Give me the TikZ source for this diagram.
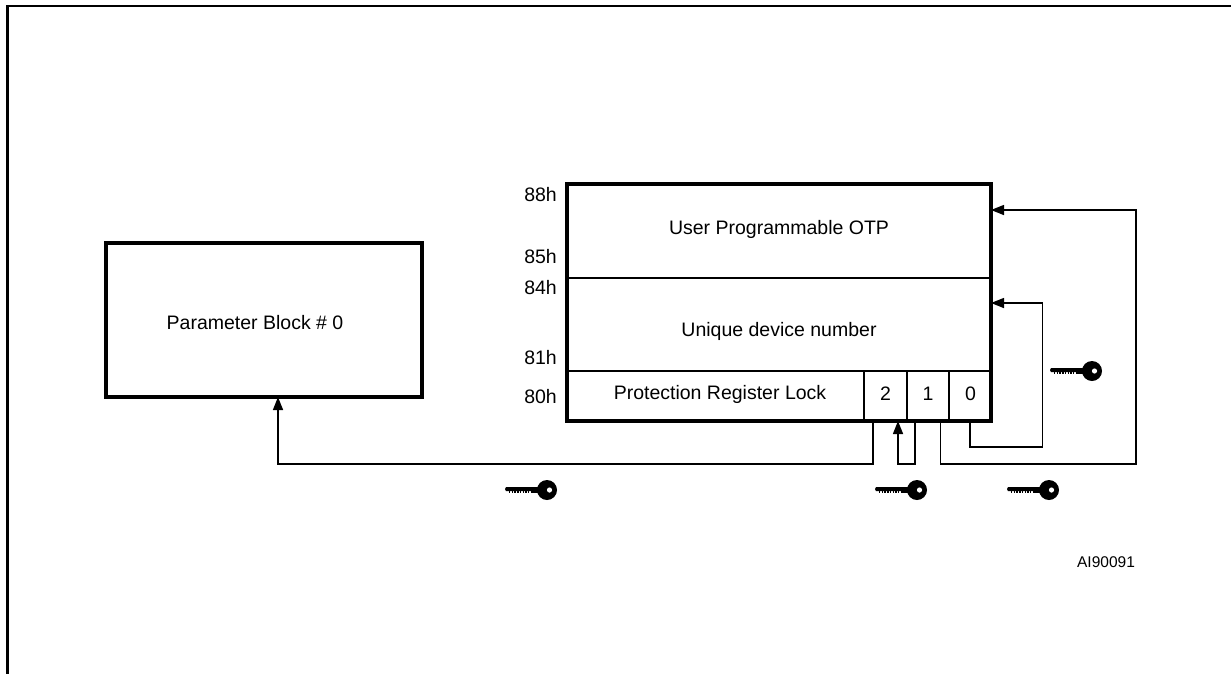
\documentclass[tikz,border=0pt]{standalone}
\usepackage{fontspec}
\setmainfont{Liberation Sans}
\usetikzlibrary{arrows.meta,calc}
\tikzset{
  cell/.style={draw, line width=1.9pt, inner sep=0pt, outer sep=0pt, anchor=north west},
  txt/.style={inner sep=0pt, font=\fontsize{19.5}{22}\selectfont},
  addr/.style={txt, anchor=east},
  conn/.style={line width=1.5pt},
  arr/.style={conn, -{Triangle[length=13pt,width=10pt]}},
  lockkey/.pic={
    \fill (0,0) circle (10);
    \fill (-41,-2.8) -- (-9,-2.8) -- (-9,1.2) -- (-41,1.2) -- (-42,-0.8) -- cycle;
    \foreach \i in {0,...,8} {\fill (-38+2.7*\i,1.2) rectangle (-36.6+2.7*\i,3);}
    \fill (-15,-3) rectangle (-8,3.4);
    \fill[white] (2.5,0) circle (2.6);
  }
}
\begin{document}
\begin{tikzpicture}[x=1pt,y=-1pt]
\useasboundingbox (0,0) rectangle (1231,673);
% outer frame
\draw[line width=2.8pt] (7.5,680) -- (7.5,6) -- (1240,6);
% parameter block
\node[cell, line width=3.6pt, minimum width=316pt, minimum height=154pt] (param) at (106,243) {};
\node[txt] (paramtxt) at (255,323) {Parameter Block \# 0};
% memory map cells
\node[cell, minimum width=424pt, minimum height=94pt] (otp) at (567,184) {};
\node[cell, minimum width=424pt, minimum height=93pt] (uniq) at (567,278) {};
\node[cell, minimum width=297pt, minimum height=50pt] (prl) at (567,371) {};
\node[cell, minimum width=43pt, minimum height=50pt] (b2) at (864,371) {};
\node[cell, minimum width=42pt, minimum height=50pt] (b1) at (907,371) {};
\node[cell, minimum width=42pt, minimum height=50pt] (b0) at (949,371) {};
\draw[line width=3.6pt] (otp.north west) rectangle (b0.south east);
\node[txt] (otptxt) at (779,229) {User Programmable OTP};
\node[txt] (uniqtxt) at (779,331) {Unique device number};
\node[txt] (prltxt) at (720,394) {Protection Register Lock};
\node[txt] (b2txt) at (885.5,394) {2};
\node[txt] (b1txt) at (928,394) {1};
\node[txt] (b0txt) at (970.5,394) {0};
% address labels
\node[addr] (a88) at (557,195) {88h};
\node[addr] (a85) at (557,257) {85h};
\node[addr] (a84) at (557,288) {84h};
\node[addr] (a81) at (557,358) {81h};
\node[addr] (a80) at (557,397) {80h};
% connectors
\coordinate (c2a) at ($(b2.south west)+(9,0)$);
\coordinate (c1a) at ($(b1.south west)+(8,0)$);
\coordinate (c2in) at ($(b2.south east)+(-9,0)$);
\coordinate (c1b) at ($(b1.south east)+(-8.5,0)$);
\coordinate (c0) at (b0.south);
\coordinate (otpin) at ($(otp.north east)+(0,26)$);
\coordinate (uniqin) at ($(uniq.north east)+(0,25)$);
\draw[arr] (c2a) |- (278,464) -- (param.south -| 278,0);
\draw[arr] (c1a) |- (c2in |- 0,464) -- (c2in);
\draw[arr] (c1b) |- (1136,464) |- (otpin);
\draw[arr] (c0) |- (1042.5,447) |- (uniqin);
% keys
\pic at (547,490) {lockkey};
\pic at (917,490) {lockkey};
\pic at (1049,490) {lockkey};
\pic at (1092,371) {lockkey};
\node[inner sep=0pt, font=\fontsize{15.5}{18}\selectfont] (ai) at (1106,562) {AI90091};
\end{tikzpicture}
\end{document}
